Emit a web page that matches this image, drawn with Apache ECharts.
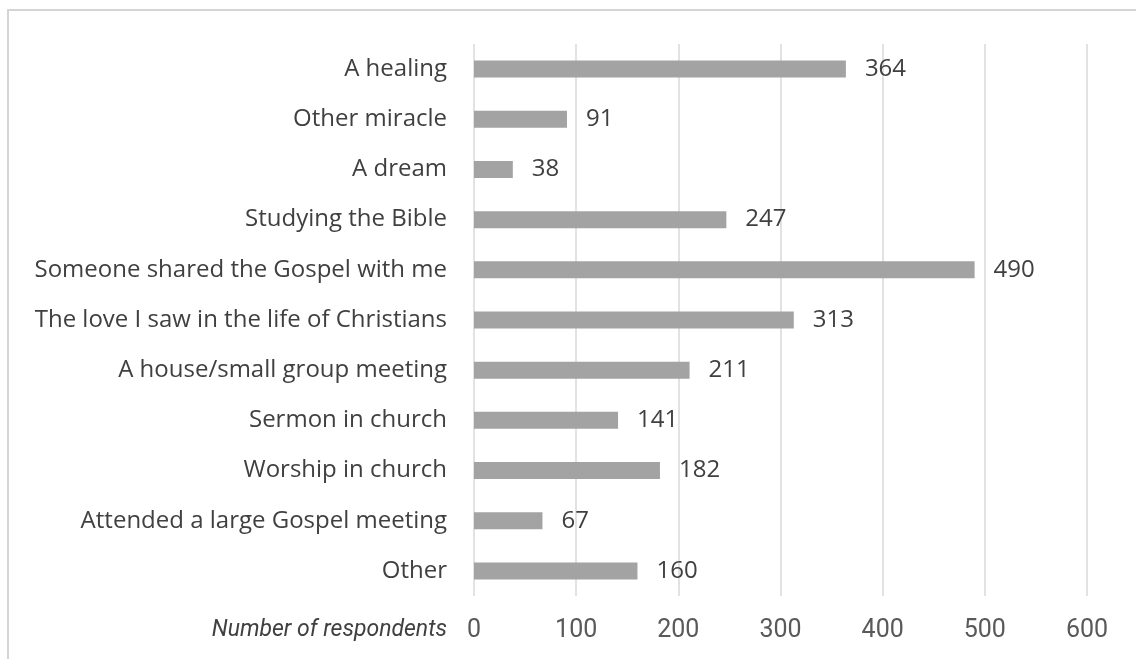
<!DOCTYPE html>
<html>
<head>
<meta charset="utf-8">
<script src="https://cdn.jsdelivr.net/npm/echarts@6/dist/echarts.min.js"></script>
<style>
html,body{margin:0;padding:0;background:#fff;}
#chart{width:1136px;height:659px;}
</style>
</head>
<body>
<div id="chart"></div>
<script>
const categories = [
  "A healing",
  "Other miracle",
  "A dream",
  "Studying the Bible",
  "Someone shared the Gospel with me",
  "The love I saw in the life of Christians",
  "A house/small group meeting",
  "Sermon in church",
  "Worship in church",
  "Attended a large Gospel meeting",
  "Other"
];
const respondents = [364, 91, 38, 247, 490, 313, 211, 141, 182, 67, 160];
const axisTitle = "Number of respondents";
const xMin = 0, xMax = 600, xStep = 100;

const chart = echarts.init(document.getElementById('chart'), null, {renderer: 'canvas'});
chart.setOption({
  animation: false,
  backgroundColor: '#ffffff',
  grid: {left: 474, right: 49, top: 44, bottom: 63, containLabel: false},
  xAxis: {
    type: 'value', min: xMin, max: xMax, interval: xStep,
    axisLine: {show: false}, axisTick: {show: false},
    splitLine: {show: true, lineStyle: {color: '#d9d9d9', width: 1.5}},
    axisLabel: {margin: 22, color: '#595959', fontSize: 25,
      fontFamily: "'Roboto', sans-serif"}
  },
  yAxis: {
    type: 'category', data: categories, inverse: true,
    axisLine: {show: false}, axisTick: {show: false},
    axisLabel: {margin: 27, color: '#404040', fontSize: 24, fontFamily: "'Open Sans', sans-serif"}
  },
  series: [{
    type: 'bar', data: respondents, barWidth: 17,
    itemStyle: {color: '#a3a3a3'},
    label: {show: true, position: 'right', distance: 19, color: '#404040', fontSize: 24,
      fontFamily: "'Open Sans', sans-serif"}
  }],
  graphic: [
    {type: 'rect', shape: {x: 8, y: 10, width: 1140, height: 660}, silent: true,
      style: {fill: 'none', stroke: '#d4d4d4', lineWidth: 2}},
    {type: 'text', x: 447, y: 630, silent: true,
      style: {text: axisTitle, align: 'right', verticalAlign: 'middle', fill: '#404040',
        fontSize: 23, fontStyle: 'italic', fontFamily: "'Roboto', sans-serif"}}
  ]
});
</script>
</body>
</html>
